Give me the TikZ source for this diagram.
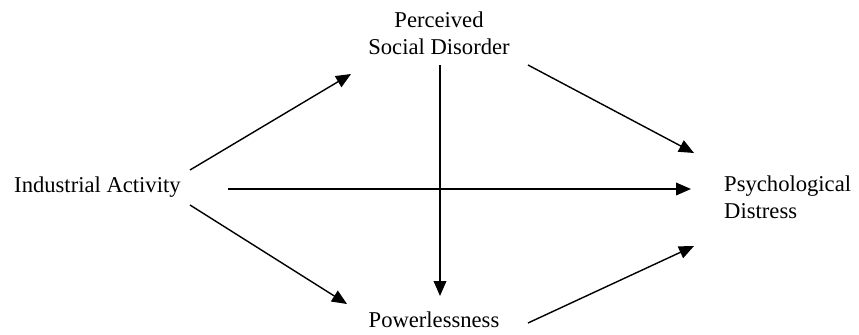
\documentclass[tikz,border=0pt]{standalone}
\usepackage{fontspec}
\setmainfont{Liberation Serif}
\usetikzlibrary{arrows.meta}
\begin{document}
\begin{tikzpicture}[x=0.03cm,y=-0.03cm,
  lbl/.style={font=\fontsize{19.3}{22.5}\selectfont, inner sep=0pt},
  conn/.style={line width=1.2pt, -{Triangle[length=0.45cm,width=0.38cm]}}]
\useasboundingbox (0,0) rectangle (859,335);
\node[lbl, align=center, anchor=base] (psd) at (439,54) {Perceived\\Social Disorder};
\node[lbl, anchor=base west] (ia) at (14,192) {Industrial Activity};
\node[lbl, align=left, anchor=base west] (pd) at (724,218) {Psychological\\Distress};
\node[lbl, anchor=base] (pw) at (434,327) {Powerlessness};
\coordinate (ia1) at (190,170);
\coordinate (psd1) at (351,74);
\coordinate (ia2) at (190,205);
\coordinate (pw1) at (347,304);
\coordinate (ia3) at (228,189);
\coordinate (pd1) at (691,189);
\coordinate (psd2) at (528,65);
\coordinate (pd2) at (694,153);
\coordinate (pw2) at (528,323);
\coordinate (pd3) at (694,246);
\coordinate (psd3) at (440,65);
\coordinate (pw3) at (440,296);
\draw[conn] (ia1) -- (psd1);
\draw[conn] (ia2) -- (pw1);
\draw[conn] (ia3) -- (pd1);
\draw[conn] (psd2) -- (pd2);
\draw[conn] (pw2) -- (pd3);
\draw[conn] (psd3) -- (pw3);
\end{tikzpicture}
\end{document}
